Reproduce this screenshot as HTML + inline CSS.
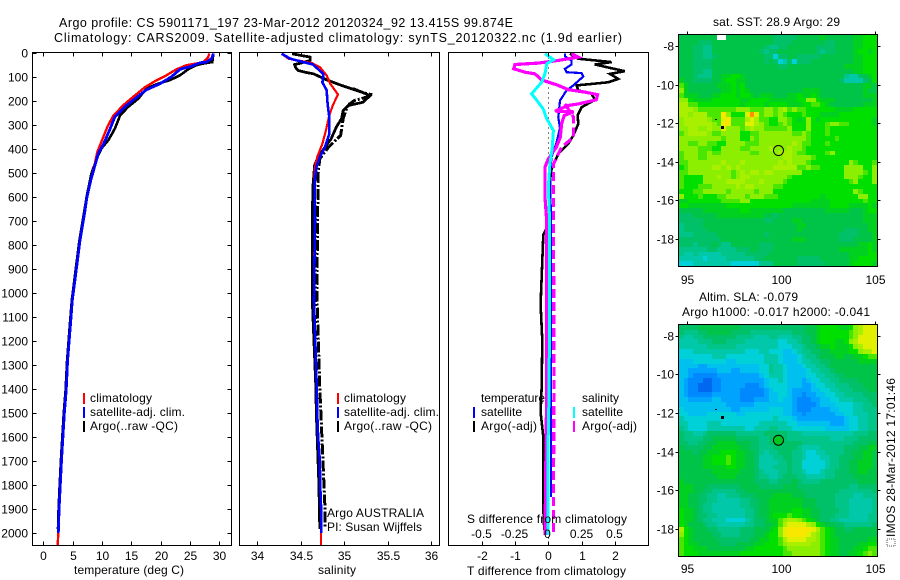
<!DOCTYPE html>
<html lang="en">
<head>
<meta charset="utf-8">
<title>Argo profile CS 5901171_197</title>
<style>
html,body{margin:0;padding:0;background:#fff;}
#figure{display:block;width:900px;height:580px;}
text{font-family:"Liberation Sans",sans-serif;font-size:12px;fill:#000;}
.t{font-size:12.5px;}
</style>
</head>
<body>
<svg id="figure" xmlns="http://www.w3.org/2000/svg" width="900" height="580" viewBox="0 0 900 580">
<rect x="0" y="0" width="900" height="580" fill="#fff"/>
<text class="t" x="59" y="27" textLength="454" lengthAdjust="spacing">Argo profile: CS 5901171_197 23-Mar-2012 20120324_92 13.415S 99.874E</text>
<text class="t" x="54" y="42" textLength="568" lengthAdjust="spacing">Climatology: CARS2009. Satellite-adjusted climatology: synTS_20120322.nc (1.9d earlier)</text>

<g id="panel-t"></g>
<g id="panel-s"></g>
<g id="panel-d"></g>
<g id="map-sst"></g>
<g id="map-sla"></g>

<text x="74" y="574" textLength="110" lengthAdjust="spacing">temperature (deg C)</text>
<text x="318" y="574" textLength="38" lengthAdjust="spacing">salinity</text>
<text x="467" y="575" textLength="159" lengthAdjust="spacing">T difference from climatology</text>
<text x="467" y="523" textLength="160" lengthAdjust="spacing">S difference from climatology</text>

<g>
<rect x="83" y="393" width="2" height="11" fill="#ff0000"/>
<rect x="83" y="407" width="2" height="11" fill="#0000ff"/>
<rect x="83" y="421" width="2" height="11" fill="#000"/>
<text x="90" y="402" textLength="62" lengthAdjust="spacing">climatology</text>
<text x="90" y="416" textLength="95" lengthAdjust="spacing">satellite-adj. clim.</text>
<text x="90" y="430" textLength="88" lengthAdjust="spacing">Argo(..raw -QC)</text>
</g>
<g>
<rect x="337" y="393" width="2" height="11" fill="#ff0000"/>
<rect x="337" y="407" width="2" height="11" fill="#0000ff"/>
<rect x="337" y="421" width="2" height="11" fill="#000"/>
<text x="344" y="402" textLength="62" lengthAdjust="spacing">climatology</text>
<text x="344" y="416" textLength="95" lengthAdjust="spacing">satellite-adj. clim.</text>
<text x="344" y="430" textLength="88" lengthAdjust="spacing">Argo(..raw -QC)</text>
<text x="327" y="517" textLength="97" lengthAdjust="spacing">Argo AUSTRALIA</text>
<text x="327" y="531" textLength="95" lengthAdjust="spacing">PI: Susan Wijffels</text>
</g>
<g>
<text x="481" y="402" textLength="64" lengthAdjust="spacing">temperature</text>
<rect x="473" y="407" width="2" height="11" fill="#0000ff"/>
<rect x="473" y="421" width="2" height="11" fill="#000"/>
<text x="481" y="416" textLength="41" lengthAdjust="spacing">satellite</text>
<text x="481" y="430" textLength="56" lengthAdjust="spacing">Argo(-adj)</text>
<text x="582" y="402" textLength="37" lengthAdjust="spacing">salinity</text>
<rect x="573" y="407" width="2" height="11" fill="#00ffff"/>
<rect x="573" y="421" width="2" height="11" fill="#ff00ff"/>
<text x="582" y="416" textLength="41" lengthAdjust="spacing">satellite</text>
<text x="582" y="430" textLength="55" lengthAdjust="spacing">Argo(-adj)</text>
</g>

<text x="713" y="26" textLength="127" lengthAdjust="spacing">sat. SST: 28.9 Argo: 29</text>
<text x="699" y="301" textLength="99" lengthAdjust="spacing">Altim. SLA: -0.079</text>
<text x="682" y="316" textLength="188" lengthAdjust="spacing">Argo h1000: -0.017 h2000: -0.041</text>

<rect x="887" y="539" width="8" height="7" fill="none" stroke="#555" stroke-width="1" stroke-dasharray="1 1"/>
<text transform="translate(895,537) rotate(-90)" x="0" y="0" textLength="159" lengthAdjust="spacing">IMOS 28-Mar-2012 17:01:46</text>
</svg>

<script>
// ---------- profile data ----------
const depthTicks = [0,100,200,300,400,500,600,700,800,900,1000,1100,1200,1300,1400,1500,1600,1700,1800,1900,2000];
const tempTicks = [0,5,10,15,20,25,30];
const salTicks = [34,34.5,35,35.5,36];
const salTickLabels = ['34','34.5','35','35.5','36'];
const tDiffTicks = [-2,-1,0,1,2];
const sDiffTicks = [-0.5,-0.25,0,0.25,0.5];
const sDiffTickLabels = ['-0.5','-0.25','0','0.25','0.5'];

const tempClimDepth = [4,20,40,46,53,70,95,120,145,185,220,265,310,372,414,462,532,608,658,783,908,1033,1158,1283,1408,1500,1700,1800,1900,2000,2054];
const tempClim = [28.3,28.1,27.3,26.1,24.4,22.7,21,19,17.3,15.3,13.6,11.9,10.9,9.9,9.2,8.8,8.1,7.4,7.1,6.25,5.6,4.95,4.55,4.15,3.9,3.6,3.1,2.9,2.7,2.55,2.45];
const tempSatDepth = [4,25,40,43,57,70,100,130,155,187,226,268,317,380,420,462,532,608,658,783,908,1033,1158,1283,1408,1500,1700,1800,1900,2003];
const tempSat = [29,28.7,27.8,26.7,25.3,23.3,21.9,19.9,17.6,15.9,13.9,12.2,11.4,10.3,9.4,8.9,8.1,7.4,7.1,6.25,5.6,4.95,4.55,4.15,3.9,3.6,3.1,2.9,2.7,2.55];
const tempArgoDepth = [4,40,46,53,70,95,115,132,150,192,226,261,317,365,400,442,504,600,658,783,908,1033,1158,1283,1408,1500,1700,1800,1900,1985];
const tempArgo = [29,28.8,27.3,26.1,24.7,23.3,21.6,19.3,17.6,16.2,14.5,13.1,12.2,11.1,9.9,9.1,8.2,7.4,7,6.15,5.5,4.85,4.45,4.05,3.8,3.5,3,2.8,2.6,2.5];

const salClimDepth = [5,26,36,44,61,96,130,175,220,262,325,380,436,485,700,1033,1400,1500,1600,1700,1800,1900,2054];
const salClim = [34.28,34.36,34.51,34.63,34.72,34.8,34.84,34.93,34.87,34.83,34.79,34.75,34.69,34.66,34.66,34.653,34.685,34.69,34.7,34.72,34.725,34.735,34.735];
const salSatDepth = [5,26,40,50,89,124,158,214,270,339,394,436,478,547,700,1033,1400,1500,1600,1700,1800,1900,2003];
const salSat = [34.28,34.38,34.53,34.64,34.76,34.75,34.8,34.81,34.83,34.83,34.78,34.72,34.68,34.66,34.665,34.653,34.685,34.69,34.7,34.72,34.725,34.735,34.735];
const salRawDepth = [5,12,19,33,44,50,62,75,82,89,114,137,165,179,207,221,241,276,311,360,394,436,470,560,700,1033,1400,1500,1800,1985];
const salRaw = [34.4,34.5,34.61,34.61,34.5,34.43,34.44,34.47,34.55,34.65,34.8,34.97,35.2,35.3,35.22,35.05,34.99,34.97,34.91,34.85,34.78,34.7,34.66,34.64,34.634,34.634,34.675,34.68,34.71,34.72];
const salQcDepth = [150,165,174,186,200,215,241,276,346,394,443,505,700,1000,1400,1900,1975];
const salQc = [35.1,35.2,35.3,35.26,35.12,35.06,35.02,34.99,34.96,34.82,34.72,34.7,34.695,34.685,34.72,34.78,34.78];

const tDiffSatDepth = [5,16,33,50,68,82,86,100,137,158,200,270,315,374,436,505,700,1000,1400,1852];
const tDiffSat = [0.5,0.5,0.7,0.7,0.5,0.55,1,1.05,0.75,0.55,0.35,0.3,0.35,0.25,0.1,0.05,0.08,0.08,0.08,0.08];
const tDiffArgoDepth = [5,26,40,50,78,89,110,124,137,158,172,197,228,262,297,346,380,422,485,533,700,760,1050,1200,1400,1500,1600,1900,1990];
const tDiffArgo = [0.65,0.9,1.9,1.4,2.3,1.85,2.1,1.8,0.85,0.9,1.3,1.4,1,0.88,0.9,0.75,0.6,0.3,0.1,0.05,0.06,-0.15,-0.23,-0.18,-0.2,-0.23,-0.15,-0.15,-0.12];
const sDiffSatDepth = [5,30,47,89,124,172,193,235,276,325,394,464,561,700,1000,1400,1700,2010];
const sDiffSat = [-0.025,0.04,-0.012,-0.025,-0.05,-0.125,-0.095,-0.038,-0.012,0.038,0.03,0.012,0,0.01,0.01,0.006,-0.004,-0.004];
const sDiffRawDepth = [5,19,33,44,50,68,82,89,114,137,155,165,176,197,214,221,244,247,262,297,353,394,443,478,603,700,1400,2010];
const sDiffRaw = [0.175,0.225,0.075,-0.075,-0.25,-0.26,-0.175,-0.1,-0.05,0.075,0.15,0.275,0.37,0.36,0.225,0.15,0.05,0.19,0.12,0.1,0.09,0.06,0,-0.025,-0.025,-0.012,-0.012,-0.025];
const sDiffQcDepth = [214,270,353,394,464,533,800,1400,2000];
const sDiffQc = [0.125,0.19,0.19,0.1,0.04,0.04,0.04,0.042,0.038];

// ---------- map data: one character per grid cell ('.' = missing) ----------
const sstRows = [
"88888888..88888888887777788888988888899AAA",
"888877788888888888887777888888877888899AAA",
"888776688888888888766778888887777888899AAA",
"88877668888888888767788888888767788889AA9A",
"888776678888888888774778877777888888899AAA",
"888777788888888888787457477788888888899AAA",
"888777788888888888888778888888888889999AAA",
"888776688888888888888888888888888888899AAA",
"88876668899AA9888888888888888888888655789A",
"9887777889AA99888888888888888888887555578A",
"B988888899 9A9A888888888888888888888888899",
"C9888888899A9A98888888888899998888888889",
"B99988899AAA9AA9899988899A99A9888888888999",
"CCA9999AAAAAA99AAAA999999AACCA999888888889",
"DDBBAAAAAAAAA9AAAA9AAAA999AABBA98888888999",
"DDDCBBBBBBBBCCCBBBCCBCDBCBBAAAAAA9999AAAAA",
"DDCDDDBBBFCAAAEGEBCCBCBAAABAAA9999AAAAAAAA",
"CDDDDDCBBEFBBBDEDBBAACCBA9ACA9AAAAAAAAAAA9",
"CDDDDDDCBFFBBBEEDCBAABCBAAACAAABCCBBAAAAA9",
"CCDDCCDCCECCCBCDCCBBBBBCAAACAAABAAAAAAAAAA",
"BCDDDDCBBCCCCAABBCCCCCCCBBCBAAABAAAAAAAAAA",
"CCCCCCCCCBCCCAACBCCCCCCCCCCBAAAAABAAAAAAAA",
"CCBBCCBBAACCCCBBBCCCCCCCDCBBAAABAAAAAAAAAA",
"CCCCBBBAACCCCBBCCCCDCCCDCCBAAAAAAAAAAAAAAA",
"BCCCBBCBBCCCCCCBBCCCCDDDCBBAAAABCAAAAAAAAA",
"BCCCBBCCCCCCCCCCCCCCCCDDCCCCBAAAAAAAAAAAAA",
"BBCCCCCCCDCCCDCCCCCCCDCDCCCBAAAAAAAACBAAAB",
"ABCCCCCDDCDCDCCCCCCCDDDDDBBCBBAAAAACCCCAAC",
"BBCCCCCCCCCBCDCDDCDDCCCCCCAAAAAAAAACCCCBAC",
"BAAAACCCDCCBCDDCCCCCCCCBAAAAAAAAAAACCCBAAC",
"BAAAACCCCCDDDDCCCDCCCCBAAAAAAAAAAAAABCAAAC",
"BAAABBBCCCCCDCDDCCCCBBAAAAAAAAAAAAAAAAAAAA",
"AAABBCCCCCBCCCCCBCCCAAAAAAAAAAAAAAAAACBAAA",
"CAAABAAABBCCCCBCCCBBBAAAAAAAAA9AAAAAAACCAA",
"99AAAAAAABBBBCCAAAAAAAAAAAAA9999AAAAAAABAA",
"AA99999999AAAAAAAAAAAAAA99999999AAAA9999A9",
"8888899999999AA9999999888888888999998889AA",
"777888889999999999887888888888888888888999",
"777778888888888888778888998888888888888999",
"677778888888888888888888899888888888888899",
"677777888888888888888888898888888887778899",
"666777778888888888788888888888888877778889",
"777777777888888888888888999888888877788889",
"7776777876688888877788888888888888888899A9",
"6666667766667778877788888888888888999999A9",
"6556555556666677777888888888888888889999AA",
"55555455556666667788888887777788888899AAAA",
"4445555555544444466688888777777888889AAAA9"
];
const slaRows = [
"777788888888877777777777777889AAAA99ACDEEE",
"766677888887777666666666777889AAAAAABCDEEE",
"655667777777666655566555667789AAAAAABCEEEE",
"555566677766665555555445567789AAA99ACDEEEE",
"55555566666655555555544455677899A999ACDEEE",
"444555555555554445544433456677889999AACDDE",
"444444455544444444555433345667888998899ABB",
"333444444433444444555433345566778888889999",
"333322333333333334465543334556678888888888",
"332222223332233334465543333455667888888888",
"332111112222222223455543333445566778888888",
"321110011222222222344543332344556677778888",
"321100011222221112344443332234455666777888",
"321100011222211111234443222233445566677788",
"321111122222211111233443221223344556666777",
"332222233222211122233433211122334455566677",
"333333333322222233333333211112333444455667",
"433333333332233333344433211122223344455666",
"443333444444334444444433221222222334455566",
"544444444444444444445444322222222223445566",
"554444555444444445555554433333332223445566",
"654444555555554455566555444444433333445566",
"766556777777666666777776665555555555566677",
"766667788888777776677776666666665556667777",
"776677889999888776677777776666666666677788",
"877778899999988776667777765555666667778899",
"8887889 99AAA99887656677766544556666778899",
"8888899AAABA99887555667766544455667778899",
"8888899AAABA99887555566766444445667788999",
"8888899999AA99887555666766444445667788999",
"888888899999988876555667665444566777889988",
"888888889999888876655677766555566777788888",
"988888888888888877766777876666777777778888",
"999888777777788887777788877777777777667777",
"999887766666778888888888887777777766666667",
"998877665566677788889999888777777666655666",
"998877665555566778899999998887777666555556",
"998876655555566778899999998887777666555556",
"A99876655555556678899999AA9988777766555556",
"A9987766555555667889AAABAA9988777666555566",
"A99876655544445677899BCDDCBA98776655555566",
"A98887665555556677889BDEEEEDCA988776666667",
"DA988877666667778889ACEFFFFFEDBA9887788888",
"CA98888776666777889AACEFFFFEDCBA9888888888",
"BA98888877777778899AABDEEEEDDCBA9988888899",
"BA9988888777888899AAABCDDDDDCCBA99888899AA",
"BAA9998888888899AAAAAABCCCCCCCBA9988899ABB",
"BAAA999999999AAAAAAAAABBCCCCCCBA998899ABCB"
];
const cellCodes = "0123456789ABCDEFG";
const cellColors = ["#0068f0","#0088ff","#00a4ff","#00c0f0","#00d0d8","#00c8a8","#00c488","#00c068","#00c448","#00d020","#00e000","#48e600","#8cee00","#a8f000","#e0f000","#f8e800","#ff9000"];
const lonTicks = [95,100,105];
const latTicks = [-8,-10,-12,-14,-16,-18];
const floatLon = [99.874];
const floatLat = [-13.415];
const trackLon = [96.55,96.85];
const trackLat = [-11.85,-12.2];

// ---------- helpers ----------
const NS = 'http://www.w3.org/2000/svg';
const plotTop = 52.5, plotBottom = 545.5;
function depthY(d){ return 52.5 + d * 0.24; }
function tempX(v){ return 43.3 + v * 5.867; }
function salX(v){ return 257.3 + (v - 34) * 86.8; }
function tDiffX(v){ return 548.3 + v * 33.3; }
function sDiffX(v){ return 548.3 + v * 133.2; }

function mk(parent, tag, attrs, name){
  const el = document.createElementNS(NS, tag);
  for (const k in attrs) el.setAttribute(k, attrs[k]);
  
  
  parent.appendChild(el);
  return el;
}
function label(parent, x, y, str, anchor, name){
  const el = mk(parent, 'text', {x:x, y:y, 'text-anchor':anchor}, name);
  el.textContent = str;
  return el;
}
function tick(parent, x1, y1, x2, y2){
  mk(parent, 'line', {x1:x1, y1:y1, x2:x2, y2:y2, stroke:'#000', 'stroke-width':1, 'shape-rendering':'crispEdges'}, 'axis-tick');
}
function series(parent, depths, vals, xFn, color, width, dash, name){
  const pts = depths.map(function(d, i){ return xFn(vals[i]).toFixed(1) + ',' + depthY(d).toFixed(1); }).join(' ');
  const attrs = {points:pts, fill:'none', stroke:color, 'stroke-width':width, 'shape-rendering':'crispEdges'};
  if (dash) attrs['stroke-dasharray'] = dash;
  return mk(parent, 'polyline', attrs, name);
}
function frame(parent, x, y, w, h, name){
  mk(parent, 'rect', {x:x, y:y, width:w, height:h, fill:'none', stroke:'#000', 'stroke-width':1, 'shape-rendering':'crispEdges'}, name);
}

// ---------- temperature panel ----------
const pT = document.getElementById('panel-t');
mk(pT, 'rect', {x:32.5, y:plotTop, width:199, height:493, fill:'#fff'}, 'temperature-plot-area');
series(pT, tempArgoDepth, tempArgo, tempX, '#000', 2.6, null, 'argo-temperature-line');
series(pT, tempClimDepth, tempClim, tempX, '#ff0000', 2.4, null, 'climatology-temperature-line');
series(pT, tempSatDepth, tempSat, tempX, '#0000ff', 2.8, null, 'satellite-temperature-line');
frame(pT, 32.5, plotTop, 199, 493, 'temperature-plot-frame');
depthTicks.forEach(function(d){
  const y = Math.round(depthY(d)) + 0.5;
  tick(pT, 32.5, y, 36.5, y);
  tick(pT, 231.5, y, 227.5, y);
  label(pT, 28, y + 4, String(d), 'end', 'depth-tick-label');
});
tempTicks.forEach(function(v){
  const x = Math.round(tempX(v)) + 0.5;
  tick(pT, x, plotTop, x, plotTop + 4);
  tick(pT, x, plotBottom, x, plotBottom - 4);
  label(pT, x, 560, String(v), 'middle', 'temperature-tick-label');
});

// ---------- salinity panel ----------
const pS = document.getElementById('panel-s');
mk(pS, 'rect', {x:239.5, y:plotTop, width:200, height:493, fill:'#fff'}, 'salinity-plot-area');
series(pS, salRawDepth, salRaw, salX, '#000', 2.8, null, 'argo-raw-salinity-line');
series(pS, salQcDepth, salQc, salX, '#000', 3, '11 2 2 2', 'argo-qc-salinity-line');
series(pS, salClimDepth, salClim, salX, '#ff0000', 2.2, null, 'climatology-salinity-line');
series(pS, salSatDepth, salSat, salX, '#0000ff', 2.6, null, 'satellite-salinity-line');
frame(pS, 239.5, plotTop, 200, 493, 'salinity-plot-frame');
salTicks.forEach(function(v, i){
  const x = Math.round(salX(v)) + 0.5;
  tick(pS, x, plotTop, x, plotTop + 4);
  tick(pS, x, plotBottom, x, plotBottom - 4);
  label(pS, x, 560, salTickLabels[i], 'middle', 'salinity-tick-label');
});

// ---------- difference panel ----------
const pD = document.getElementById('panel-d');
mk(pD, 'rect', {x:448.5, y:plotTop, width:200, height:493, fill:'#fff'}, 'difference-plot-area');
mk(pD, 'line', {x1:548.5, y1:plotTop, x2:548.5, y2:plotBottom, stroke:'#000', 'stroke-width':1, 'stroke-dasharray':'1 4', 'shape-rendering':'crispEdges'}, 'zero-difference-line');
series(pD, tDiffArgoDepth, tDiffArgo, tDiffX, '#000', 2.6, null, 't-difference-argo-line');
series(pD, tDiffSatDepth, tDiffSat, tDiffX, '#0000ff', 2.2, null, 't-difference-satellite-line');
series(pD, sDiffRawDepth, sDiffRaw, sDiffX, '#ff00ff', 3.2, null, 's-difference-argo-raw-line');
series(pD, sDiffQcDepth, sDiffQc, sDiffX, '#ff00ff', 3.2, '9 4', 's-difference-argo-qc-line');
series(pD, sDiffSatDepth, sDiffSat, sDiffX, '#00ffff', 3, null, 's-difference-satellite-line');
frame(pD, 448.5, plotTop, 200, 493, 'difference-plot-frame');
tDiffTicks.forEach(function(v){
  const x = Math.round(tDiffX(v)) + 0.5;
  tick(pD, x, plotTop, x, plotTop + 4);
  tick(pD, x, plotBottom, x, plotBottom - 4);
  label(pD, x, 560, String(v), 'middle', 't-difference-tick-label');
});
sDiffTicks.forEach(function(v, i){
  const x = Math.round(sDiffX(v)) + 0.5;
  label(pD, x - 1, 538, sDiffTickLabels[i], 'middle', 's-difference-tick-label');
});

// ---------- maps ----------
function drawMap(id, rows, top, labelY, lat8Y, circleFill){
  const g = document.getElementById(id);
  const left = 679, width = 198, height = 231;
  const cw = width / 42, ch = height / rows.length;
  const lonX = function(v){ return 686.7 + (v - 95) * 18.83; };
  const latY = function(v){ return lat8Y + (-8 - v) * 19.3; };
  mk(g, 'rect', {x:left, y:top, width:width, height:height, fill:'#00c848', 'shape-rendering':'crispEdges'}, 'map-background');
  rows.forEach(function(row, r){
    const chars = row.replace(/ /g, '');
    for (let c = 0; c < 42 && c < chars.length; c++){
      const code = chars.charAt(c);
      const idx = cellCodes.indexOf(code);
      const x0 = Math.round(left + c * cw), x1 = Math.round(left + (c + 1) * cw);
      const y0 = Math.round(top + r * ch), y1 = Math.round(top + (r + 1) * ch);
      const cell = document.createElementNS(NS, 'rect');
      cell.setAttribute('x', x0);
      cell.setAttribute('y', y0);
      cell.setAttribute('width', x1 - x0);
      cell.setAttribute('height', y1 - y0);
      cell.setAttribute('fill', idx < 0 ? '#ffffff' : cellColors[idx]);
      
      
      g.appendChild(cell);
    }
  });
  trackLon.forEach(function(v, i){
    const size = i === 0 ? 2 : 3;
    mk(g, 'rect', {x:Math.round(lonX(v)) - 1, y:Math.round(latY(trackLat[i])) - 1, width:size, height:i === 0 ? 1 : 3, fill:'#000', 'shape-rendering':'crispEdges'}, 'float-track-point');
  });
  mk(g, 'circle', {cx:lonX(floatLon[0]), cy:latY(floatLat[0]), r:5, fill:circleFill, stroke:'#000', 'stroke-width':1}, 'float-position-marker');
  frame(g, left - 0.5, top - 0.5, width + 1, height + 1, 'map-frame');
  lonTicks.forEach(function(v){
    const x = Math.round(lonX(v)) + 0.5;
    tick(g, x, top - 0.5, x, top - 3.5);
    label(g, x, labelY, String(v), 'middle', 'longitude-tick-label');
  });
  latTicks.forEach(function(v){
    const y = Math.round(latY(v)) + 0.5;
    tick(g, left - 0.5, y, left - 3.5, y);
    tick(g, left + width + 0.5, y, left + width + 3.5, y);
    label(g, 674, y + 4, String(v), 'end', 'latitude-tick-label');
  });
}
drawMap('map-sst', sstRows, 35, 284, 46, 'none');
drawMap('map-sla', slaRows, 325, 573, 335.7, '#00c820');
</script>
</body>
</html>
